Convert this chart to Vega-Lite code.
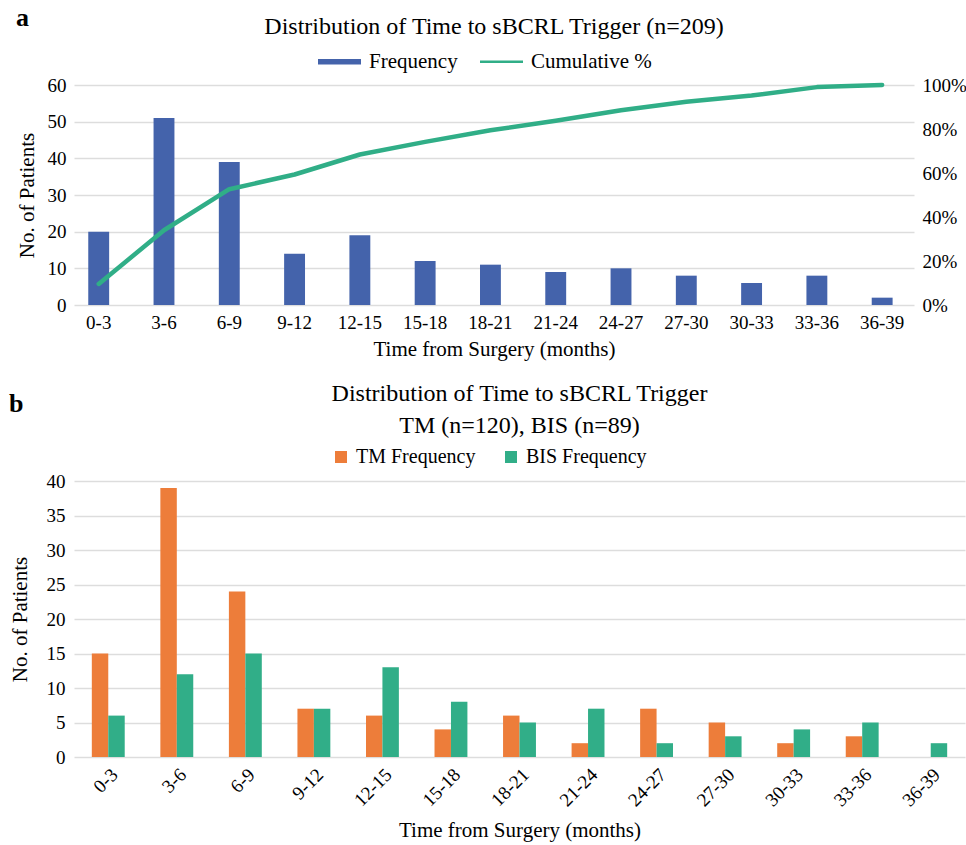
{
  "$schema": "https://vega.github.io/schema/vega-lite/v6.json",
  "background": "white",
  "padding": {"left": 9, "right": 0, "top": 5, "bottom": 2},
  "spacing": 23,
  "columns": 1,
  "align": "none",
  "resolve": {"scale": {"color": "independent"}, "legend": {"color": "independent"}},
  "config": {
    "font": "Liberation Serif",
    "view": {"stroke": null},
    "title": {"font": "Liberation Serif", "fontSize": 24, "fontWeight": "normal", "color": "black"},
    "axis": {
      "labelFont": "Liberation Serif", "titleFont": "Liberation Serif",
      "labelFontSize": 19, "titleFontSize": 21, "titleFontWeight": "normal",
      "labelColor": "black", "titleColor": "black",
      "domain": false, "ticks": false,
      "gridColor": "#DDDDDD", "gridWidth": 1.5
    },
    "legend": {"labelFont": "Liberation Serif", "labelFontSize": 21, "labelColor": "black"}
  },
  "concat": [
    {
      "title": {"text": "a", "anchor": "start", "fontWeight": "bold", "fontSize": 26, "offset": -16, "font": "Liberation Serif"},
      "vconcat": [
        {
          "title": {"text": "Distribution of Time to sBCRL Trigger (n=209)", "offset": 37, "font": "Liberation Serif"},
          "width": 840,
          "height": 220,
          "data": {"values": [
            {"bin": "0-3", "freq": 20, "cum": 0.0957},
            {"bin": "3-6", "freq": 51, "cum": 0.3397},
            {"bin": "6-9", "freq": 39, "cum": 0.5263},
            {"bin": "9-12", "freq": 14, "cum": 0.5933},
            {"bin": "12-15", "freq": 19, "cum": 0.6842},
            {"bin": "15-18", "freq": 12, "cum": 0.7416},
            {"bin": "18-21", "freq": 11, "cum": 0.7943},
            {"bin": "21-24", "freq": 9, "cum": 0.8373},
            {"bin": "24-27", "freq": 10, "cum": 0.8852},
            {"bin": "27-30", "freq": 8, "cum": 0.9234},
            {"bin": "30-33", "freq": 6, "cum": 0.9522},
            {"bin": "33-36", "freq": 8, "cum": 0.9904},
            {"bin": "36-39", "freq": 2, "cum": 1.0}
          ]},
          "encoding": {
            "x": {"field": "bin", "type": "nominal", "sort": null,
                  "scale": {"paddingInner": 0.68, "paddingOuter": 0.273, "align": 0.4},
                  "axis": {"title": "Time from Surgery (months)", "labelAngle": 0, "labelPadding": 8, "titlePadding": 6, "grid": false,
                           "labelFont": "Liberation Serif", "titleFont": "Liberation Serif"}}
          },
          "layer": [
            {
              "mark": {"type": "bar"},
              "encoding": {
                "y": {"field": "freq", "type": "quantitative",
                      "scale": {"domain": [0, 60]},
                      "axis": {"title": "No. of Patients", "values": [0, 10, 20, 30, 40, 50, 60], "labelPadding": 8, "titlePadding": 10,
                               "labelFont": "Liberation Serif", "titleFont": "Liberation Serif"}},
                "color": {"datum": "Frequency", "type": "nominal",
                          "scale": {"domain": ["Frequency", "Cumulative %"], "range": ["#4463AB", "#30AE87"]},
                          "legend": {"orient": "none", "legendX": 244, "legendY": -45, "title": null, "direction": "horizontal", "labelFont": "Liberation Serif",
                                     "symbolSize": 1849, "labelOffset": 8, "columnPadding": 22,
                                     "encode": {"symbols": {"update": {
                                       "shape": {"signal": "datum.value === 'Frequency' ? 'M-1,-0.13H1V0.13H-1Z' : 'M-1,-0.055H1V0.055H-1Z'"},
                                       "fill": {"scale": "color", "field": "value"},
                                       "stroke": {"value": "transparent"},
                                       "strokeWidth": {"value": 0},
                                       "opacity": {"value": 1}
                                     }}}}}
              }
            },
            {
              "mark": {"type": "line", "strokeWidth": 4.5, "strokeCap": "round", "strokeJoin": "round"},
              "encoding": {
                "y": {"field": "cum", "type": "quantitative",
                      "scale": {"domain": [0, 1]},
                      "axis": {"title": null, "format": ".0%", "values": [0, 0.2, 0.4, 0.6, 0.8, 1], "grid": false, "orient": "right", "labelPadding": 8,
                               "labelFont": "Liberation Serif"}},
                "color": {"datum": "Cumulative %", "type": "nominal"}
              }
            }
          ],
          "resolve": {"scale": {"y": "independent"}, "axis": {"y": "independent"}}
        }
      ]
    },
    {
      "title": {"text": "b", "anchor": "start", "fontWeight": "bold", "fontSize": 26, "offset": -35, "font": "Liberation Serif"},
      "vconcat": [
        {
          "title": {"text": ["Distribution of Time to sBCRL Trigger", "TM (n=120), BIS (n=89)"], "lineHeight": 32, "offset": 34, "font": "Liberation Serif"},
          "width": 891,
          "height": 276,
          "data": {"values": [
            {"bin": "0-3", "group": "TM Frequency", "count": 15},
            {"bin": "0-3", "group": "BIS Frequency", "count": 6},
            {"bin": "3-6", "group": "TM Frequency", "count": 39},
            {"bin": "3-6", "group": "BIS Frequency", "count": 12},
            {"bin": "6-9", "group": "TM Frequency", "count": 24},
            {"bin": "6-9", "group": "BIS Frequency", "count": 15},
            {"bin": "9-12", "group": "TM Frequency", "count": 7},
            {"bin": "9-12", "group": "BIS Frequency", "count": 7},
            {"bin": "12-15", "group": "TM Frequency", "count": 6},
            {"bin": "12-15", "group": "BIS Frequency", "count": 13},
            {"bin": "15-18", "group": "TM Frequency", "count": 4},
            {"bin": "15-18", "group": "BIS Frequency", "count": 8},
            {"bin": "18-21", "group": "TM Frequency", "count": 6},
            {"bin": "18-21", "group": "BIS Frequency", "count": 5},
            {"bin": "21-24", "group": "TM Frequency", "count": 2},
            {"bin": "21-24", "group": "BIS Frequency", "count": 7},
            {"bin": "24-27", "group": "TM Frequency", "count": 7},
            {"bin": "24-27", "group": "BIS Frequency", "count": 2},
            {"bin": "27-30", "group": "TM Frequency", "count": 5},
            {"bin": "27-30", "group": "BIS Frequency", "count": 3},
            {"bin": "30-33", "group": "TM Frequency", "count": 2},
            {"bin": "30-33", "group": "BIS Frequency", "count": 4},
            {"bin": "33-36", "group": "TM Frequency", "count": 3},
            {"bin": "33-36", "group": "BIS Frequency", "count": 5},
            {"bin": "36-39", "group": "TM Frequency", "count": 0},
            {"bin": "36-39", "group": "BIS Frequency", "count": 2}
          ]},
          "mark": {"type": "bar"},
          "encoding": {
            "x": {"field": "bin", "type": "nominal", "sort": null,
                  "scale": {"paddingInner": 0.52, "paddingOuter": 0.26},
                  "axis": {"title": "Time from Surgery (months)", "labelAngle": -45, "labelPadding": 8, "titlePadding": 10, "grid": false,
                           "labelFont": "Liberation Serif", "titleFont": "Liberation Serif"}},
            "xOffset": {"field": "group", "type": "nominal", "sort": ["TM Frequency", "BIS Frequency"], "scale": {"paddingInner": 0, "paddingOuter": 0}},
            "y": {"field": "count", "type": "quantitative",
                  "scale": {"domain": [0, 40]},
                  "axis": {"title": "No. of Patients", "values": [0, 5, 10, 15, 20, 25, 30, 35, 40], "labelPadding": 9, "titlePadding": 16,
                           "labelFont": "Liberation Serif", "titleFont": "Liberation Serif"}},
            "color": {"field": "group", "type": "nominal",
                      "scale": {"domain": ["TM Frequency", "BIS Frequency"], "range": ["#ED7D3A", "#31AE88"]},
                      "legend": {"orient": "none", "legendX": 257, "legendY": -34, "title": null, "direction": "horizontal", "symbolType": "square", "labelFont": "Liberation Serif",
                                 "symbolSize": 144, "symbolStrokeWidth": 0, "symbolOpacity": 1, "labelFontSize": 20, "labelOffset": 5, "columnPadding": 25}}
          }
        }
      ]
    }
  ]
}
